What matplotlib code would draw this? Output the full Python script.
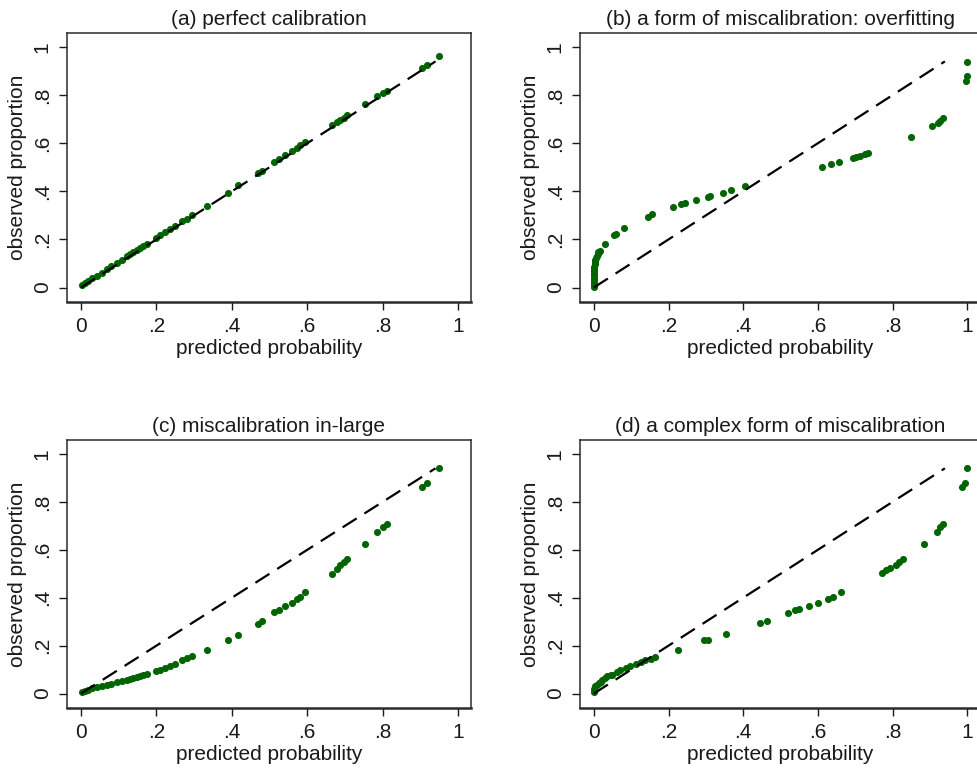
import matplotlib
matplotlib.use("Agg")
import matplotlib.pyplot as plt

plt.rcParams['font.family'] = ['Liberation Sans', 'DejaVu Sans']
plt.rcParams['lines.scale_dashes'] = False

# panels (a) and (c) share the same predicted probabilities
pred = [0.002, 0.010, 0.019, 0.030, 0.042, 0.055, 0.068, 0.080, 0.095, 0.108,
        0.121, 0.130, 0.139, 0.148, 0.156, 0.165, 0.174, 0.200, 0.210, 0.223,
        0.236, 0.249, 0.267, 0.280, 0.294, 0.335, 0.389, 0.417, 0.470, 0.479,
        0.513, 0.526, 0.541, 0.559, 0.572, 0.581, 0.594, 0.665, 0.678, 0.687,
        0.696, 0.705, 0.753, 0.786, 0.802, 0.811, 0.904, 0.917, 0.950]
obs_a = [0.010, 0.018, 0.028, 0.038, 0.049, 0.062, 0.076, 0.088, 0.101, 0.115,
         0.130, 0.139, 0.148, 0.157, 0.166, 0.174, 0.183, 0.208, 0.219, 0.230,
         0.243, 0.256, 0.276, 0.287, 0.300, 0.341, 0.395, 0.427, 0.477, 0.486,
         0.520, 0.535, 0.550, 0.568, 0.579, 0.592, 0.605, 0.675, 0.688, 0.695,
         0.704, 0.716, 0.762, 0.797, 0.808, 0.818, 0.913, 0.925, 0.962]
obs_c = [0.005, 0.011, 0.017, 0.022, 0.028, 0.033, 0.038, 0.042, 0.047, 0.051,
         0.055, 0.060, 0.065, 0.070, 0.075, 0.079, 0.083, 0.095, 0.100, 0.107,
         0.117, 0.125, 0.139, 0.147, 0.156, 0.180, 0.225, 0.246, 0.292, 0.301,
         0.339, 0.350, 0.364, 0.378, 0.394, 0.405, 0.422, 0.500, 0.521, 0.535,
         0.549, 0.562, 0.625, 0.674, 0.694, 0.707, 0.860, 0.880, 0.940]

# (b) overfitting
pred_b = [0.000, 0.000, 0.000, 0.000, 0.000, 0.000, 0.000, 0.000, 0.001, 0.002,
          0.003, 0.004, 0.006, 0.008, 0.010, 0.012, 0.016, 0.031, 0.055, 0.060,
          0.082, 0.145, 0.156, 0.213, 0.234, 0.243, 0.274, 0.306, 0.311, 0.345,
          0.367, 0.405, 0.611, 0.635, 0.656, 0.693, 0.702, 0.714, 0.725, 0.735,
          0.848, 0.906, 0.922, 0.928, 0.935, 0.996, 0.998, 0.999]
obs_b = [0.004, 0.015, 0.026, 0.036, 0.047, 0.057, 0.067, 0.077, 0.087, 0.097,
         0.106, 0.115, 0.124, 0.132, 0.140, 0.147, 0.154, 0.182, 0.218, 0.224,
         0.249, 0.293, 0.304, 0.335, 0.346, 0.351, 0.362, 0.378, 0.380, 0.394,
         0.404, 0.422, 0.501, 0.512, 0.522, 0.539, 0.543, 0.547, 0.554, 0.561,
         0.624, 0.672, 0.686, 0.693, 0.705, 0.858, 0.879, 0.939]

# (d) complex miscalibration
pred_d = [0.000, 0.001, 0.004, 0.008, 0.013, 0.018, 0.023, 0.030, 0.036, 0.045,
          0.050, 0.062, 0.071, 0.085, 0.098, 0.112, 0.125, 0.138, 0.152, 0.165,
          0.226, 0.296, 0.305, 0.354, 0.446, 0.464, 0.519, 0.540, 0.550, 0.575,
          0.601, 0.626, 0.640, 0.663, 0.772, 0.783, 0.792, 0.810, 0.818, 0.827,
          0.883, 0.919, 0.928, 0.935, 0.986, 0.993, 0.999]
obs_d = [0.005, 0.020, 0.030, 0.036, 0.044, 0.050, 0.058, 0.065, 0.072, 0.076,
         0.079, 0.090, 0.100, 0.107, 0.117, 0.125, 0.131, 0.139, 0.144, 0.152,
         0.180, 0.225, 0.225, 0.248, 0.294, 0.304, 0.336, 0.347, 0.353, 0.364,
         0.378, 0.394, 0.405, 0.422, 0.503, 0.517, 0.524, 0.537, 0.549, 0.562,
         0.625, 0.674, 0.694, 0.707, 0.860, 0.880, 0.940]

ref_line = [0, 0.94]
ticks = [0, 0.2, 0.4, 0.6, 0.8, 1]
tick_labels = ['0', '.2', '.4', '.6', '.8', '1']

panels = [
    ('(a) perfect calibration', pred, obs_a, [67, 33, 404, 269]),
    ('(b) a form of miscalibration: overfitting', pred_b, obs_b, [580, 33, 400, 269]),
    ('(c) miscalibration in-large', pred, obs_c, [67, 440, 404, 268]),
    ('(d) a complex form of miscalibration', pred_d, obs_d, [580, 440, 400, 268]),
]

W, H = 977, 769
fig = plt.figure(figsize=(W / 100, H / 100), dpi=100)

for title, x, y, (l, t, w, h) in panels:
    ax = fig.add_axes([l / W, 1 - (t + h) / H, w / W, h / H])
    ax.scatter(x, y, s=26, color='#006400', linewidths=0, zorder=2)
    ax.plot(ref_line, ref_line, color='black', lw=1.6, dashes=(12, 6.6), zorder=3)
    ax.set_xlim(-0.037, 1.034)
    ax.set_ylim(-0.06, 1.058)
    ax.set_xticks(ticks, tick_labels)
    ax.set_yticks(ticks, tick_labels, rotation=90, va='center')
    ax.tick_params(length=6, width=1, pad=5, labelsize=15, colors='#1a1a1a')
    for s in ax.spines.values():
        s.set_color('#2b2b2b')
        s.set_linewidth(1.1)
    ax.spines['bottom'].set_linewidth(1.8)
    ax.set_xlabel('predicted probability', fontsize=15, labelpad=2, color='#1a1a1a')
    ax.set_ylabel('observed proportion', fontsize=15, labelpad=4, color='#1a1a1a')
    ax.set_title(title, fontsize=15, pad=6, color='#1a1a1a')

fig.savefig('out.png', dpi=100)
